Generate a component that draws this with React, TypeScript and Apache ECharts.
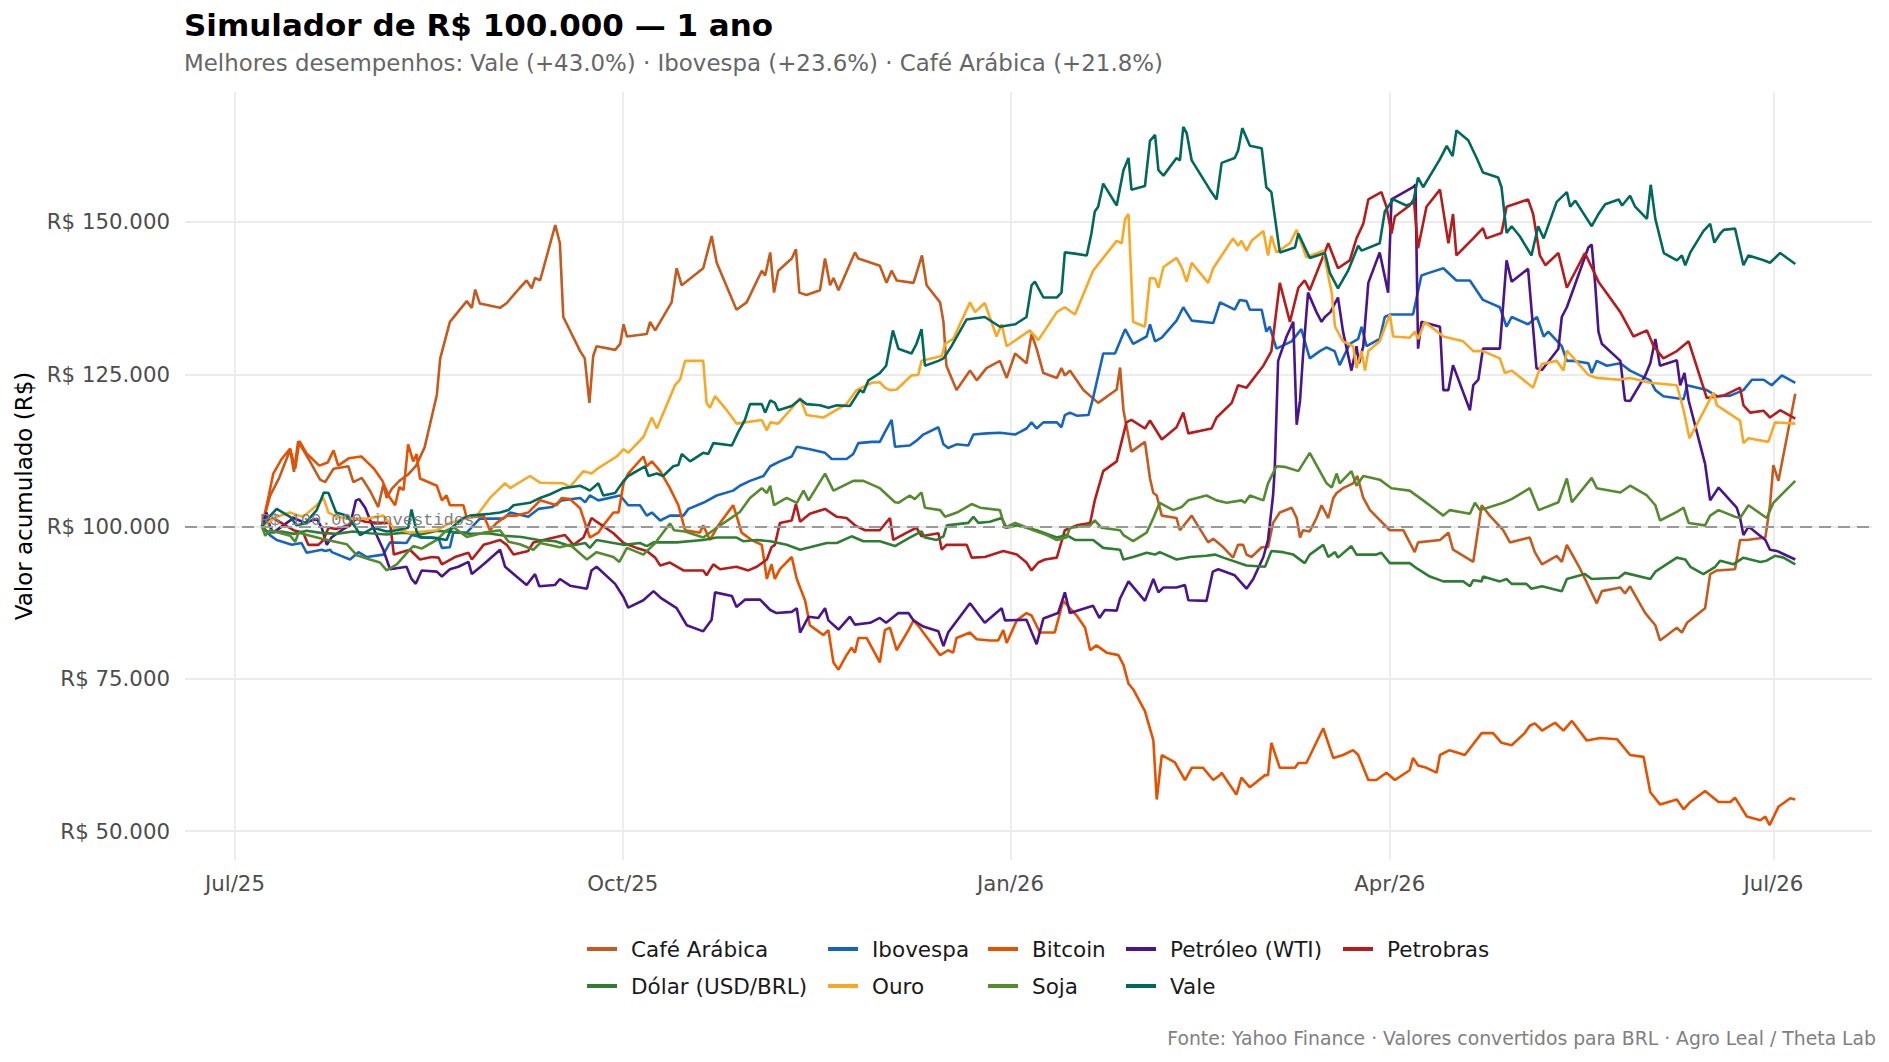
import React, { useEffect, useRef } from "react";
import * as echarts from "echarts";

// Day offsets are counted from 2025-07-01; values are R$ thousands (100 = R$ 100.000 invested).
const START = "2025-07-01";

const cafeArabica = [[6.4,100],[8.3,105],[10.5,108],[13.1,112.6],[14,109],[15,114],[17.8,110.7],[20.2,107.7],[21.4,107.3],[23.4,109.5],[26.9,109.9],[28.1,107.3],[30.1,108],[32.1,105.8],[34,103.2],[35.2,106.9],[36,104.7],[37.2,106.2],[39,107.5],[41,108.5],[43,110],[45,113],[47.9,121.6],[48.7,127.6],[51,133.6],[55,137],[56.2,135.9],[57,138.9],[58.1,136.6],[62.9,135.9],[64.5,136.7],[67.6,139.2],[69.2,140.4],[70.4,139.1],[71.2,140.8],[72.4,140.4],[76,149.5],[77.1,146.5],[77.9,134.4],[81.9,128.8],[83,127.6],[84.1,120.3],[85,128],[85.8,129.6],[90.2,129],[91.4,130],[92.2,133.2],[93,131.2],[97.7,131.6],[98.5,133.6],[99.7,132.2],[103.6,136.8],[104.8,142.4],[106,139.6],[111.1,142.4],[113.1,147.7],[114.3,143.3],[119,135.6],[121.4,136.8],[125,142],[125.8,141.2],[127,145],[127.9,138.4],[128.9,142],[132.1,144],[133.1,145.5],[133.9,138.4],[135.6,138],[138.8,138.8],[140,144],[141.2,139.6],[142,140.8],[143.2,138.8],[147.1,145],[147.9,144],[153,142.8],[154.6,140],[155.8,142],[157,140.4],[161,140],[163,144.5],[164.1,139.6],[167.3,136.8],[168.1,133.6],[168.8,126.4],[171.2,122.4],[174.4,125.6],[176,124],[178.3,126],[181.5,127.2],[183.1,124.4],[185.1,128.4],[187.8,126.8],[189,131.6],[190.2,129.2],[191.8,125.2],[195,124.4],[196.1,126],[196.9,124.8],[198.1,125.6],[201.3,122.4],[204.8,120.3],[209.2,122.5],[210,126.1],[210.8,119.1],[212.7,112.3],[215.9,113.9],[217.1,107.9],[217.9,105.5],[218.7,105.1],[219.9,101.8],[223.4,101.4],[224.2,99.4],[227,101.8],[230.9,97.4],[232.1,98],[234.5,96.6],[236.8,94.9],[238,97],[239.2,97],[240,95.4],[241.2,95],[243.6,96.6],[245.1,96.6],[246.3,100.6],[247.9,102.3],[250.7,103.1],[251.9,101.4],[252.7,98.2],[253.4,99.4],[255,99.2],[256.6,101.4],[257.8,103.5],[259.4,101.4],[260.6,104.7],[261.4,105.5],[262.9,106.3],[265.3,107.1],[266.3,108.3],[267.7,104.7],[269.3,102.7],[274,99.4],[277.2,99.4],[279.9,95.8],[280.7,97.4],[285.9,97.8],[287.9,99],[289,96.2],[293.8,94.2],[295.8,103.5],[297.7,101.8],[300.9,99.4],[302.5,97.4],[307.2,98.2],[308.4,95.8],[310.1,93.8],[313.6,95.2],[314.8,94.2],[316,97],[319.2,93],[323.1,87.4],[324.3,89.4],[328.7,90],[329.8,89],[331,90.2],[334.6,85.8],[337,83.8],[338.1,81.3],[342.1,83.4],[343.3,82.6],[344.5,84.2],[348.8,86.6],[350,92.2],[351.6,92.8],[355.9,93],[357.1,97.8],[358.7,97.8],[363.1,98.2],[364.2,103.5],[365,110.1],[366.2,107.5],[370.2,121.8]];

const ibovespa = [[6.4,100],[8.3,98.6],[9.9,97.8],[13.5,97],[15.8,97.3],[17,95.7],[20.6,96.2],[21.4,96],[22.6,96.2],[23,95.8],[27.3,94.6],[29.3,95.8],[31.3,95],[35.2,95.4],[36.8,97.4],[40.7,97.3],[41.9,98.6],[44.7,98.2],[48.3,98.1],[49.1,96.5],[51,96.6],[51.8,99],[55,99],[58.1,101.3],[63.7,101.3],[65.3,102.3],[69.6,101.6],[72,102.9],[75.2,103.2],[77.5,104.3],[81.9,104.7],[83.1,104],[84.2,105.1],[86.2,104.3],[91.4,105.1],[93.3,103.5],[96.1,103.5],[97.7,101.8],[98.9,102.3],[100.9,101],[103.2,101.8],[106.4,101.8],[107.6,102.9],[111.1,103.9],[114.3,105.1],[118.2,105.9],[119.8,106.7],[122.2,107.5],[125.4,108.3],[127,109.9],[129.3,110.7],[132.1,111.5],[133.3,113.1],[136.4,112.7],[140,112.1],[141.6,111.1],[145.1,111.1],[146.7,111.9],[147.9,113.7],[151.1,113.9],[153,113.9],[154.2,115.5],[155.8,117.5],[156.6,113.1],[160.1,113.3],[161.7,114.1],[163.3,115.1],[166.9,116.3],[168.1,113.5],[169.2,112.9],[171.2,113.5],[174,113.3],[175.2,115.1],[178.3,115.3],[181.5,115.4],[185.1,115.1],[187.8,116.1],[189,117.1],[190.2,116.1],[191.8,117.1],[195,117.1],[196.1,116.3],[196.9,118.3],[198.1,118.7],[199.7,118.2],[202.5,118.3],[203.6,121.1],[206,128.4],[208.8,128.4],[211.2,132.4],[213.1,130],[216.3,131.2],[217.1,133.2],[218.3,130.4],[219.9,131],[223.4,133.8],[225,136],[227,133.8],[232.1,133.4],[233.7,136.8],[237.2,135.6],[238.4,137.2],[240,137],[240.8,135.6],[243.6,135.6],[244.7,132],[245.5,132.8],[247.1,129.2],[250.7,130.4],[253,132.4],[255,127.6],[257.4,128.8],[259,129.4],[260.9,128.8],[262.1,126.5],[264.5,130],[266.5,130.8],[267.3,132.8],[268.5,129.6],[271.6,130.8],[272.8,134.4],[274,134.8],[279.5,134.8],[281.5,141.2],[283.1,141.6],[286.7,142.4],[289.8,140.4],[293,140.4],[296.1,137.2],[300.1,136],[301.7,132.8],[302.9,134.4],[306.8,133.2],[308.9,134.4],[310.5,131.2],[311.6,132],[314.8,129.6],[316,127.2],[317.6,127.2],[321.1,126.8],[321.9,125.2],[323.1,127.2],[325.5,126.4],[328.7,126.8],[331,125.6],[335.8,124],[337,122.4],[338.9,121.4],[343.7,120.9],[344.5,123.2],[349.2,122.4],[351.6,121.4],[354.8,121.5],[357.9,122.4],[359.9,124.1],[362.7,124.1],[364.6,123.2],[367,124.8],[370.2,123.6]];

const bitcoin = [[6.4,100],[8,105],[9.1,108.7],[11,111],[13.1,112.8],[14.3,109.5],[15.3,114],[17,112],[20,110],[22,110.5],[23.4,112.5],[24.5,110],[27,111.2],[30,111.5],[31.5,110.5],[33,109.5],[35,107.5],[36.5,105],[38,103.5],[39,106.5],[40,106],[41.1,113.5],[42.3,110.7],[43.1,111.9],[43.9,107.9],[47.9,106.7],[49.1,104.3],[50.2,105.1],[51,103.5],[54.2,103.5],[55,101.4],[59,101.8],[60.5,99.4],[62.1,100.6],[64.5,101.8],[66.8,101.8],[69.6,102.3],[72.4,104.3],[76.3,103.5],[77.5,104.7],[79.5,104.5],[81.9,103],[84.2,98.2],[86.2,99],[87.4,100.2],[89.8,102.3],[91,102.3],[92.2,107.1],[93.3,108.7],[96.9,111.5],[97.7,109.9],[98.9,110.7],[100.9,109.1],[103.2,106.3],[105.2,103.5],[106.8,99.4],[110.3,99],[111.1,100.2],[112.7,97.8],[114.7,100.2],[118.2,103.5],[119,101.8],[120.2,99],[122.6,97.8],[125,97],[126.2,91.4],[127.3,93.8],[128.1,91.4],[129.3,93],[132.1,95],[133.3,91.4],[135.3,87.8],[136.4,83.8],[138,83],[139.6,82.2],[140.8,83],[142,77.7],[143.2,76.5],[145.1,78.9],[146.3,80.1],[147.1,79.3],[147.9,81.7],[149.9,81.7],[153,77.7],[154.2,83],[155.4,83.4],[157,79.7],[159.8,83],[161,84.6],[162.5,83.4],[163.3,82.6],[167.3,78.9],[169.2,79.7],[170.4,79.3],[171.2,81.7],[174.4,82.6],[176,81.5],[179.1,81.3],[181.1,81.3],[182.3,83],[183.1,80.9],[185.5,84.6],[187.8,85.8],[189,85.4],[191,82.6],[194.5,82.6],[196.5,87.8],[198.1,86.6],[199.7,85.4],[201.7,83.4],[202.9,79.7],[204.4,80.5],[206.8,79.3],[209.6,78.9],[210.8,77.3],[212,74.2],[213.1,73.3],[215.9,69.7],[217.9,64.9],[218.7,55.2],[219.9,62.5],[223,61.3],[225.4,58.4],[227,60.4],[229.7,60.4],[232.1,58.4],[233.7,59.2],[234.1,59.6],[237.6,56],[238.8,58.8],[240.8,57.2],[244.4,59.2],[245.1,59.2],[245.9,64.5],[247.9,60.4],[251.5,60.4],[252.3,61.2],[254.2,61.2],[258.2,66.9],[260.6,62],[262.9,62.5],[265.3,63.3],[266.5,62.5],[268.9,58.4],[270.8,58.4],[273.2,59.6],[275.2,58.4],[278.7,60],[279.5,62],[280.7,60.8],[282.7,60.4],[285.1,59.6],[285.9,62.5],[288.2,63.3],[291.8,62.5],[295.8,66.1],[298.5,66.1],[300.5,64.5],[302.9,64.1],[306,66.1],[307.2,67.3],[308.4,67.7],[309.6,66.9],[310.1,66.5],[313.2,67.8],[315.2,66.5],[317.2,68.1],[320.7,64.9],[323.9,65.3],[327.9,65.1],[331,62.5],[334.2,62.2],[335.8,56.4],[338.1,54.4],[342.1,55.2],[343.7,53.6],[345.3,54.8],[348.8,56.6],[352,54.8],[354.8,54.8],[355.9,55.5],[358.7,52.4],[361.9,51.8],[363.1,52.4],[364.1,51],[366.2,54],[369,55.4],[370.2,55.2]];

const petroleo = [[6.4,100],[7.5,102.3],[8.3,100],[9.1,99],[12.3,100.6],[13.9,101.4],[16.6,100.6],[19.4,101.3],[20.6,99.8],[21.8,97],[22.9,98.2],[25.3,99.4],[27.3,100.2],[28.7,104.3],[29.5,104.5],[30.9,103.1],[32.8,99.8],[35.2,96.2],[36.8,93],[40.7,93.4],[41.9,91.4],[42.9,90.6],[44.3,92.8],[47.9,92.6],[49.1,91.8],[51,93],[53,93.4],[55.4,94.2],[56.2,92.2],[59,93.8],[62.9,96.2],[64.1,93.4],[66.8,91.8],[69.2,90.4],[71.2,92.2],[72.2,90.2],[75.9,90.4],[77.1,91.4],[79.5,90.3],[83.5,89.8],[84.6,92.8],[85.8,93.4],[90.2,90.6],[92.2,88.4],[93.3,86.7],[96.9,87.9],[99.3,89.4],[101.2,88.2],[104.8,86.6],[107.2,83.8],[111.1,82.8],[113.1,84.7],[113.9,89.2],[117.9,88.6],[119,86.8],[121,88],[124.6,88],[127,86.3],[128.5,85.8],[132.1,86],[133.3,86.6],[134.1,82.6],[136.1,85.2],[138.4,85],[140,86.6],[140.8,84.6],[143.2,83.1],[145.9,85.2],[147.1,83.9],[150.7,84.2],[153,85],[154.5,84.2],[157.4,85.8],[159.8,85.8],[161,84.6],[163.3,83.6],[166.9,82.8],[168.1,80.4],[169.2,82.6],[174.4,87.4],[177.9,84.2],[181.9,86.6],[182.7,84.6],[187.8,84.7],[190.2,80.7],[191.8,84.9],[195.3,85.8],[196.9,89.2],[198.1,85.8],[203.6,87],[205.1,85],[206.4,86.3],[209.2,86.2],[210,88.2],[212,91],[215.9,87.8],[217.9,91.4],[219.1,89.2],[220.3,90],[223.4,90],[225.4,90.4],[226.2,87.9],[230.5,87.8],[232,92.6],[233.3,93],[237.2,92],[240,89.8],[241.6,91.4],[244,95],[245.1,97.8],[246.3,105.1],[246.7,109.5],[247.5,127.2],[249.5,131.2],[251.1,133.6],[251.9,116.7],[252.7,120.7],[253.4,128],[254.6,138.4],[256.6,135.2],[257.8,133.6],[258.6,134.4],[259.9,135.2],[261.7,137.6],[262.9,132],[264.9,125.6],[266.1,129.6],[266.7,126.8],[267.7,129.6],[268.9,140],[271.6,145],[273.6,138.4],[274.4,153.7],[279.5,155.7],[280.1,156.1],[280.7,129.2],[281.5,133.6],[285.9,132.8],[286.7,122.4],[287.9,122.4],[289,126.5],[293,119.1],[293.8,123.2],[295,124.1],[296.1,129.2],[300.1,129.2],[301.7,143.7],[302.9,140.2],[306.8,142.3],[308.8,126],[310.1,125.7],[314,129.2],[314.8,134.4],[316,136],[321.1,145.8],[321.9,146.3],[322.7,140],[323.5,132],[324.3,130],[328.7,127.2],[329.8,120.7],[331,120.6],[334.6,124.8],[335.8,126.8],[337,130.8],[338.1,126.4],[342.1,127.3],[342.9,123.2],[343.9,125.2],[344.9,120.7],[348.8,110.3],[350,104.3],[352,106.4],[356.3,103.1],[357.1,101.4],[357.9,98.6],[359.1,100],[363.1,97.8],[364.2,96.2],[365.8,96],[370.2,94.6]];

const petrobras = [[6.4,100],[9.1,101.4],[11,100.6],[13.9,99.4],[16.2,99],[17.4,97],[19.8,97],[21,97.8],[22.2,99.8],[24,99.6],[26.9,100.2],[28.9,101.3],[30.9,100.8],[33.6,100.6],[36.8,100.6],[37.7,95.4],[41.5,96.2],[43.9,94.6],[46.7,95],[48.3,94.9],[49.1,93.8],[52.2,95],[55.4,95.7],[56.2,94.6],[59,97],[60.5,97.3],[62.9,97.8],[64.5,97],[66.1,95.4],[69.6,96],[70.8,97.4],[73.2,97.8],[78.3,98.6],[80.3,97],[82.7,98.2],[84.6,101.4],[85.8,100.8],[89.8,98.9],[92.2,97.3],[95.3,96.5],[97.7,96],[99.7,94.9],[100.9,93.6],[103.2,94.1],[106.4,92.8],[108,92.8],[111.1,92.8],[111.9,92],[113.5,93.8],[115.1,93],[119,93.4],[121.8,92.8],[123.8,93.4],[126.2,94.6],[127.3,96.6],[128.1,97],[129.3,100.6],[132.1,101],[133.1,103.7],[134.1,100.8],[136.4,102.1],[140,102.9],[142.8,101.6],[145.1,101.4],[147.1,100.2],[149.5,99.4],[153,99.4],[155.4,101.4],[156.2,97.8],[159.4,99],[161.7,99.8],[162.9,98.4],[166.9,98.9],[167.7,96.2],[168.8,97],[173.6,97],[174.8,94.9],[177.9,95],[182.3,96],[185.5,95.4],[187.8,94.1],[189,92.8],[190.6,94.1],[192.2,94.6],[195,94.9],[196.9,99.4],[199.7,100.2],[202.9,100.6],[204,104.3],[206,109.1],[209.2,110.7],[211.5,117.1],[212.7,117.5],[215.9,116.1],[217.1,117.4],[219.9,114.3],[223.4,116.3],[225,118.7],[226.2,115.3],[231.7,116.1],[232.9,117.9],[236.5,120.3],[238,123.2],[240,122.8],[244,126.4],[245.9,128.8],[247.9,140],[250.3,133.6],[252.3,139.2],[253.8,140.4],[255,138.8],[259.4,146.5],[261.7,142.4],[264.5,143.7],[266.1,147.3],[267.7,149.7],[268.9,153.7],[272,154.9],[273.2,152.5],[274.4,148.1],[275.2,150.9],[278.7,152.7],[279.7,153.7],[280.7,145.7],[282.7,152.5],[285.9,155.3],[287.9,146.5],[289,151.3],[289.8,144.5],[293.8,147.3],[296.1,149],[296.9,147.3],[300.5,148.2],[301.7,152.5],[306.8,153.7],[308,151.3],[309.6,144.5],[310.9,142.9],[314,144.9],[316,139.2],[320.3,144.9],[323.5,140.2],[328.7,135.2],[331.8,131.2],[335,132.2],[336.6,129.6],[338.9,127.6],[342.1,128.8],[344.9,130.4],[349.2,121.1],[353.2,121.5],[357.1,122.8],[357.9,119.9],[359.5,118.7],[362.7,119],[364.2,117.9],[366.6,119.1],[370.2,117.7]];

const dolar = [[6.4,100],[8,99],[11,99.2],[14,98.8],[17,99.3],[20,99],[24,98.8],[28,99.2],[32,98.9],[36,98.7],[40,99],[44,98.7],[48,99.3],[52,99.1],[56,98.8],[60,98.9],[64,98.5],[68,98.3],[72,97.8],[76,97.6],[79.5,96.8],[83.1,97.3],[84.2,96.5],[85.8,97.8],[89.8,97.3],[92.2,97],[96.1,97.3],[97.7,96.8],[99.3,97.4],[104.8,97.4],[111.1,97.8],[114.3,98.2],[119,98.2],[120.6,97.6],[123.8,97.8],[127,97.6],[130.9,97],[134.1,96.2],[136.4,96.6],[140.4,97.3],[142.8,97.3],[146.3,98.4],[149.1,97.6],[153,97.6],[156.6,96.8],[157.8,97.3],[160.1,98.2],[162.9,99.2],[163.7,98.2],[166.5,97.8],[168.1,98.4],[168.9,100.2],[174,100.6],[175.2,101.6],[176.4,100.6],[179.1,100.8],[181.9,101.4],[183.1,99.8],[185.5,100.2],[188.6,99.7],[190.2,99.4],[195,98.2],[197.3,98.6],[199.3,97.8],[203.6,97.8],[206,96.5],[210,96.2],[210.8,94.6],[213.1,95],[216.3,95.7],[218.3,95.4],[219.4,95.8],[223.4,94.6],[226.6,95],[230.5,95.2],[232.5,95.4],[234.5,94.9],[240,93.6],[244.4,93.4],[245.9,96],[248.7,95.8],[251.1,95.4],[253.8,94],[255,95.4],[258.2,97],[259.4,95],[261,95.8],[261.7,94.9],[264.9,96.8],[266.1,95.4],[270.8,95.4],[272,95.7],[274,94],[278.7,94],[280.7,93],[283.5,91.8],[286.7,91],[291.4,91],[293,90.2],[293.8,91.2],[295.8,91],[296.1,91.8],[300.1,91],[301.7,91.4],[302.9,90.6],[306.4,90.6],[307.6,89.8],[310.1,90.2],[314.8,89.4],[316,91.4],[320.3,92.2],[321.9,91.4],[328.3,91.6],[329.8,92.4],[335.8,91.4],[337,92.6],[342.1,94.9],[344.1,94.6],[345.3,93.4],[348.4,92.2],[351.2,93.4],[352.4,94.4],[355.5,93.8],[357.9,94.9],[361.9,94.2],[363.4,94.4],[365.4,95.2],[367.4,94.9],[370.2,93.8]];

const ouro = [[6.4,100],[9.9,101.6],[13.1,102.3],[15.1,101.8],[16.2,101.6],[19.4,103.5],[21,104.7],[22.2,102.3],[24.1,101.6],[27.3,101.3],[31.3,101.3],[35.2,101.8],[37.6,99.8],[41.5,99],[44.7,99.2],[47.9,99.4],[51,100.6],[57.4,101.8],[60.5,104.7],[64.1,107.1],[65.3,106.3],[70,108.3],[72.4,107.2],[77.9,107.1],[79.5,106.5],[82.7,109.1],[84.6,108.7],[86.2,109.6],[90.6,111.5],[92.2,112.7],[93.3,112.1],[96.9,114.7],[98.9,117.9],[100.1,116.1],[104.4,123.2],[105.6,124.1],[106.8,127.2],[111.1,127.2],[111.9,120.3],[112.7,119.5],[113.9,121.4],[116.7,119.1],[119,116.9],[125,117.5],[126.2,115.8],[127,117.1],[128.9,116.9],[131.7,119.1],[134.1,121.1],[135.6,118.3],[139.6,117.9],[141.6,118.7],[145.1,120.1],[147.5,122.4],[151.1,123.6],[153,123.7],[154.2,122.8],[155.4,122.4],[157,122.5],[160.5,124.8],[162.1,124.9],[162.9,127.2],[167.7,128],[168.5,130],[170.4,130.8],[174.4,136.8],[175.6,135.2],[177.9,136.7],[180.7,131.2],[181.9,133.2],[183.1,129.6],[188.6,132.2],[190.6,130.6],[195,135.2],[196.9,136],[199.3,134.8],[203.6,142],[206,144.1],[209.2,146.9],[210.4,146.5],[211.2,150.5],[212,151.3],[213.1,133.6],[215.9,132.8],[217.1,140.8],[218.3,140.7],[219.1,139.2],[220.3,142.6],[223.4,144.1],[224.6,142.6],[225.8,140.2],[227,143.3],[230.9,140],[232.1,142.4],[234.5,144.9],[236.8,147.3],[238,146.1],[238.8,146.9],[240,145.3],[241.2,146.9],[244,148.5],[245.1,144.5],[245.9,147.7],[247.1,145],[250.3,146.5],[251.9,148.7],[254.2,144.2],[258.2,145.3],[260.2,138.4],[261,132.8],[262.9,130.4],[265.3,129.6],[266.1,126],[267.3,128.8],[268.1,125.6],[268.9,128.8],[271.6,130.4],[274,134.8],[274.8,131.2],[278.7,131],[280,132],[280.7,130.8],[282.3,133.6],[286.7,131.2],[291.4,130.4],[293.8,128.8],[296.1,128.8],[300.1,127.6],[301.3,125.2],[302.9,125.6],[308,122.8],[309.2,125.2],[310.1,126.7],[313.6,127.2],[315.2,125.6],[316,128.9],[321.1,124.9],[323.1,124.4],[328.3,124.1],[331,124.4],[335.8,123.6],[342.1,123.2],[343.7,119.1],[345.1,114.5],[346.8,116.7],[350.8,122],[351.6,119.9],[357.1,117.4],[357.9,113.7],[359.1,114.5],[363.8,113.9],[365.4,117.1],[370.2,116.9]];

const soja = [[6.4,100],[7.2,98.5],[8.3,99.4],[13.1,98.5],[14.3,97.5],[15.1,99],[20.6,98],[26.5,97.1],[28.9,95.3],[32,94.6],[34.4,94.1],[36,92.8],[38.4,93.8],[40.7,95.6],[42.3,96.8],[44.3,96.4],[47.9,97.8],[50.2,99.4],[52,99.8],[55,98.3],[59,99],[62.9,99.4],[64.9,97.5],[67.6,97.1],[70.8,96.2],[72.4,97.3],[77.1,96.6],[79.5,97],[83.5,94.6],[85.8,95.8],[89.8,95],[91.2,94.2],[93,96.5],[96.9,95.4],[99.7,97.3],[103.2,100.5],[104.2,99.4],[106.8,99.2],[111.1,98.2],[114.3,99.8],[117.5,101.3],[119.8,102.4],[122.2,104.7],[125,106.3],[126.2,105.5],[127,106.7],[127.9,103.5],[130.9,104.7],[133.3,103.9],[134.9,105.9],[136.1,104.3],[140,108.7],[142,105.9],[146.7,107.5],[149.1,107.5],[153,106.3],[156.6,104],[157.4,103.9],[160.1,105.1],[161.3,104.5],[162.9,105.6],[163.7,103.1],[167.3,102.7],[168.5,101.6],[171.6,102.4],[174.8,103.7],[176.8,103.1],[181.5,102.7],[182.7,99.8],[185.1,100.6],[189.4,99.4],[192.6,98.6],[195,97.8],[197.3,98.2],[198.1,99.8],[202.9,100.2],[204,101],[205.6,99.8],[210,99.4],[210.8,98.6],[213.1,97.6],[216.3,99],[217.9,101.4],[219.4,103.9],[222.6,102.7],[224.6,103.2],[226.2,104.3],[230.5,105.1],[232.9,104.3],[235.3,103.9],[238.8,104.3],[239.6,103.9],[240.8,105.1],[244,104.3],[245.1,107.1],[247.1,109.9],[249,109.8],[252.3,109.1],[255,112.1],[259,107.1],[260.2,106.4],[261.4,108.7],[262.1,107.1],[264.9,109.1],[266.1,106.7],[267.7,108.3],[271.6,107.7],[274.4,106.3],[278.7,105.9],[281.9,104.3],[286.7,101.8],[288.2,102.7],[293,102.1],[294.2,103.9],[295.4,102.7],[300.9,103.9],[302.9,104.5],[307.2,106.3],[309.3,102.7],[314,104],[316,107.9],[317.2,104],[321.9,108],[323.1,106.3],[328.7,105.6],[331,106.7],[335,105.1],[337,103.5],[338.1,101],[342.1,102.4],[343.7,103.1],[344.9,100.6],[348.8,100.2],[350,101.8],[352,102.7],[355.9,101.6],[357.1,101.4],[359.1,103.5],[363.4,101.4],[365,103.9],[370.2,107.5]];

const vale = [[6.4,100],[8,101.5],[9.9,102.9],[13.1,101.6],[14.6,100.2],[16.6,100.5],[19.4,102.7],[21.1,105.6],[22.2,105.5],[24,102.3],[26.5,101.8],[28.7,99.8],[29.7,98.6],[32.8,99.8],[36,99.2],[38.4,99.4],[41.1,99.8],[41.9,102.8],[43.1,99.2],[43.9,98.2],[46.7,98.2],[50.2,97.8],[51.4,99.8],[54.2,101.4],[55.8,101.8],[60.5,102.1],[62.9,102.3],[64.9,102.7],[66.1,103.5],[70,103.9],[72.4,104.7],[74.8,105.3],[77.9,106.3],[81.9,106.7],[83.1,106.3],[84.2,105.9],[86.2,107.1],[87.4,105.1],[90.2,105.5],[92.2,107.5],[93.3,108.3],[97.3,109.9],[98.1,108.3],[100.1,108.7],[101.6,108.3],[104,109.9],[105.2,110.1],[106,111.9],[108,110.7],[111.1,112.1],[112.3,111.9],[113.5,113.7],[117.9,113.3],[119.4,115.5],[121,117.5],[122.2,120.1],[125,120.1],[125.8,118.7],[127,120.7],[128.1,120.3],[128.9,119.1],[132.1,119.8],[134.1,120.9],[135.6,120.1],[138.8,119.9],[140.8,119.5],[142.8,119.9],[145.9,119.8],[148.3,122.4],[149.1,122],[150.3,124],[153,125.2],[154.5,126.4],[156.1,132.2],[157.4,129.2],[160.5,128.4],[161.7,130],[162.9,132.4],[163.7,126.4],[166.9,127.2],[168.1,127.6],[170,129.6],[173.6,134],[177.9,134.4],[181.5,132.8],[185.1,133.2],[187.8,134.4],[189,139.6],[189.8,140.2],[191.8,137.6],[195,137.6],[196.1,138.4],[196.9,145],[199.3,144.8],[202.1,144.5],[203.2,148.1],[204,151.7],[204.8,152.5],[206,156.3],[209.2,152.7],[210.8,158.5],[212,160.5],[212.7,155.3],[215.9,155.9],[217.1,163.3],[218.3,164.3],[219.1,158.5],[220.3,157.6],[223.4,160.5],[224.2,160.1],[225,165.6],[225.8,164.6],[227,160.1],[231.3,155.3],[232.9,153.7],[234.1,159.7],[237.2,160.5],[238,161.7],[239,165.4],[240.8,162.5],[243.6,162.1],[244.7,155.7],[245.9,154.9],[247.9,145],[251.5,145.8],[252.3,148.1],[255,144.1],[258.6,144.9],[259.8,141.6],[261.7,139.1],[264.1,142],[266.5,146.1],[267.3,145.3],[271.6,146.5],[272.8,151.7],[274.8,153.7],[277.9,152.7],[279.5,153.1],[280.7,157.3],[281.9,155.7],[285.9,160.3],[287.5,162.5],[288.9,160.8],[289.8,165],[292.6,163.4],[294.6,160.5],[296.1,158.1],[299.7,157.3],[300.5,155.7],[301.7,148.2],[302.9,149.3],[304.8,147.7],[307.6,144.5],[309.2,149.3],[310.5,147.3],[313.6,153.3],[316,154.9],[316.8,152.5],[318,153.5],[321.9,149.3],[323.5,151.3],[325.1,152.9],[328.3,153.7],[329.1,152.7],[331,154.3],[332.2,152.5],[335,150.5],[335.9,156.1],[337,150.5],[339,144.9],[342.1,143.7],[343.3,144.5],[344.1,142.9],[345.3,145],[348.4,148.5],[350,149.7],[351,146.6],[352.4,148.1],[353.2,148.7],[355.9,148.9],[357.9,142.9],[359.1,144.5],[362.7,143.7],[364.2,143.3],[366.6,144.9],[370.2,143.1]];

const seriesNames = ["Café Arábica", "Ibovespa", "Bitcoin", "Petróleo (WTI)", "Petrobras", "Dólar (USD/BRL)", "Ouro", "Soja", "Vale"];
const seriesData = [cafeArabica, ibovespa, bitcoin, petroleo, petrobras, dolar, ouro, soja, vale];
const seriesColors = ["#C55A1E", "#1565C0", "#E65100", "#4A148C", "#B71C1C", "#2E7D32", "#F9A825", "#558B2F", "#00695C"];

const legendColumns = [
  ["Café Arábica", "Dólar (USD/BRL)"],
  ["Ibovespa", "Ouro"],
  ["Bitcoin", "Soja"],
  ["Petróleo (WTI)", "Vale"],
  ["Petrobras"],
];
const legendLefts = [587, 828, 988, 1126, 1343];

const yTickValues = [50000, 75000, 100000, 125000, 150000];
const xTickDates = ["2025-07-01", "2025-10-01", "2026-01-01", "2026-04-01", "2026-07-01"];
const xTickLabels = ["Jul/25", "Oct/25", "Jan/26", "Apr/26", "Jul/26"];
const investedAmount = 100000;

const TITLE = "Simulador de R$ 100.000 — 1 ano";
const SUBTITLE = "Melhores desempenhos: Vale (+43.0%) · Ibovespa (+23.6%) · Café Arábica (+21.8%)";
const CAPTION = "Fonte: Yahoo Finance · Valores convertidos para BRL · Agro Leal / Theta Lab";

const DAY_MS = 86400000;
const BASE = Date.parse(START + "T00:00:00Z");
const dayOf = (iso: string) => (Date.parse(iso + "T00:00:00Z") - BASE) / DAY_MS;
const fmtBRL = (v: number) => "R$ " + String(Math.round(v)).replace(/\B(?=(\d{3})+(?!\d))/g, ".");

const FONT = "DejaVu Sans";

export default function App() {
  const ref = useRef<HTMLDivElement>(null);

  useEffect(() => {
    if (!ref.current) return;
    const chart = echarts.init(ref.current, null, { renderer: "svg" });
    const xTickDays = xTickDates.map(dayOf);

    const lineSeries = seriesNames.map((name, i) => ({
      name,
      type: "line",
      data: seriesData[i].map(([d, v]) => [d, v * 1000]),
      showSymbol: false,
      symbol: "none",
      z: 3,
      lineStyle: { width: 2.6, color: seriesColors[i] },
      itemStyle: { color: seriesColors[i] },
      emphasis: { disabled: true },
    }));

    const firstPoint = cafeArabica[0];

    const option = {
      animation: false,
      backgroundColor: "#ffffff",
      title: [
        {
          text: TITLE,
          subtext: SUBTITLE,
          left: 184,
          top: 9,
          padding: 0,
          itemGap: 11,
          textStyle: { fontFamily: FONT, fontWeight: "bold", fontSize: 31, color: "#000000" },
          subtextStyle: { fontFamily: FONT, fontSize: 22.9, color: "#666666" },
        },
        {
          text: CAPTION,
          right: 13,
          top: 1029,
          padding: 0,
          textStyle: { fontFamily: FONT, fontWeight: "normal", fontSize: 18.8, color: "#808080" },
        },
      ],
      legend: legendColumns.map((names, i) => ({
        data: names,
        orient: "vertical",
        left: legendLefts[i],
        top: 938,
        padding: 0,
        itemGap: 15,
        itemWidth: 30,
        itemHeight: 4,
        icon: "rect",
        selectedMode: false,
        textStyle: { fontFamily: FONT, fontSize: 21.5, color: "#1a1a1a", lineHeight: 22, padding: [0, 0, 0, 9] },
      })),
      grid: { left: 185, right: 17, top: 92, bottom: 202, containLabel: false },
      xAxis: {
        type: "value",
        min: -11.85,
        max: 388.4,
        axisLine: { show: false },
        axisTick: { show: false, customValues: xTickDays },
        axisLabel: {
          customValues: xTickDays,
          margin: 13,
          fontFamily: FONT,
          fontSize: 21.3,
          color: "#4D4D4D",
          formatter: (val: number) => {
            let best = 0;
            xTickDays.forEach((t, k) => {
              if (Math.abs(t - val) < Math.abs(xTickDays[best] - val)) best = k;
            });
            return xTickLabels[best];
          },
        },
        splitLine: { show: true, lineStyle: { color: "#EBEBEB", width: 1.8 } },
      },
      yAxis: {
        type: "value",
        min: 45270,
        max: 171330,
        name: "Valor acumulado (R$)",
        nameLocation: "middle",
        nameGap: 150,
        nameTextStyle: { fontFamily: FONT, fontSize: 23, color: "#000000", padding: [0, 40, 0, 0] },
        axisLine: { show: false },
        axisTick: { show: false, customValues: yTickValues },
        axisLabel: {
          customValues: yTickValues,
          margin: 15,
          fontFamily: FONT,
          fontSize: 21.3,
          color: "#4D4D4D",
          formatter: (v: number) => fmtBRL(v),
        },
        splitLine: { show: true, lineStyle: { color: "#EBEBEB", width: 1.8 } },
      },
      series: [
        {
          name: "__baseline",
          type: "line",
          data: [],
          z: 2,
          silent: true,
          markLine: {
            silent: true,
            symbol: ["none", "none"],
            label: { show: false },
            lineStyle: { color: "#999999", type: [12, 7], width: 1.8 },
            data: [{ yAxis: investedAmount }],
          },
        },
        ...lineSeries,
        {
          name: "__label",
          type: "line",
          data: [],
          z: 10,
          silent: true,
          markPoint: {
            silent: true,
            symbol: "circle",
            symbolSize: 0,
            data: [
              {
                coord: [firstPoint[0], investedAmount],
                label: {
                  show: true,
                  position: "right",
                  distance: 0,
                  offset: [-2, -6],
                  formatter: "R$ 100.000 investidos",
                  fontFamily: "Liberation Mono",
                  fontSize: 17,
                  color: "#7F7F7F",
                },
              },
            ],
          },
        },
      ],
    };

    chart.setOption(option as any);
    return () => chart.dispose();
  }, []);

  return (
    <div
      ref={ref}
      style={{ position: "fixed", left: 0, top: 0, width: 1889, height: 1062, background: "#ffffff" }}
    />
  );
}
